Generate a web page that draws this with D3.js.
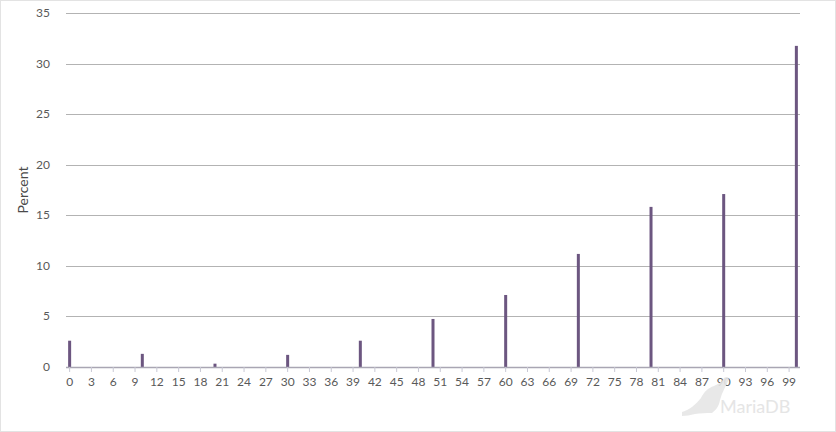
<!DOCTYPE html>
<html><head><meta charset="utf-8">
<script src="https://cdn.jsdelivr.net/npm/d3@7"></script>
<style>
html,body{margin:0;padding:0;background:#fff;}
svg{display:block;font-family:Lato,"Open Sans",sans-serif;}
</style></head>
<body>
<svg id="c" width="836" height="432"></svg>
<script>
const categories = d3.range(0, 101).map(String);
const barCategories = ["0","10","20","30","40","50","60","70","80","90","100"];
const barValues = [2.6, 1.3, 0.33, 1.2, 2.6, 4.75, 7.12, 11.18, 15.83, 17.1, 31.75];
const yTicks = [0, 5, 10, 15, 20, 25, 30, 35];
const xTickLabels = d3.range(0, 100, 3).map(String);
const yTitle = "Percent";

const svg = d3.select("#c");
const W = 836, H = 432;
svg.append("rect").attr("x",0.5).attr("y",0.5).attr("width",W-1).attr("height",H-1)
  .attr("fill","#fff").attr("stroke","#e3e3e3");

const x = d3.scaleBand().domain(categories).range([66, 800]).paddingInner(0.59).paddingOuter(0.295);
const y = d3.scaleLinear().domain([0, 35]).range([367, 13]);

// gridlines
svg.append("g").selectAll("line").data(yTicks.filter(d=>d>0)).join("line")
  .attr("x1",66).attr("x2",800).attr("y1",d=>Math.round(y(d))+0.5).attr("y2",d=>Math.round(y(d))+0.5)
  .attr("stroke","#b3b3b3").attr("stroke-width",1);

// y labels
svg.append("g").selectAll("text").data(yTicks).join("text")
  .attr("x",50).attr("y",d=>y(d)+4).attr("text-anchor","end")
  .attr("font-size",12).attr("fill","#595959").text(d=>d);

// bars
const data = barCategories.map((c,i)=>({c, v: barValues[i]}));
svg.append("g").selectAll("rect").data(data).join("rect")
  .attr("x",d=>x(d.c)+x.bandwidth()/2-1.5).attr("width",3)
  .attr("y",d=>y(d.v)).attr("height",d=>y(0)-y(d.v))
  .attr("fill","#6c5680");

// x axis
const xAxis = d3.axisBottom(x).tickValues(xTickLabels).tickSize(5).tickSizeOuter(0);
const gx = svg.append("g").attr("transform","translate(0,367)").call(xAxis);
gx.select(".domain").attr("stroke","#a9a6b3").attr("stroke-width",1.5).attr("d","M66,0.5H800");
gx.selectAll(".tick line").attr("stroke","#c8c8d4");
gx.selectAll(".tick text").attr("font-size",12).attr("fill","#595959").attr("font-family","Lato,sans-serif").attr("dy","0.9em");

// y title
svg.append("text").attr("transform","translate(28,190) rotate(-90)")
  .attr("text-anchor","middle").attr("font-size",14).attr("fill","#4a4a4a").text(yTitle);

// watermark
const wm = svg.append("g").attr("opacity",0.9);
wm.append("path")
  .attr("d","M682,412 C690,410 696,404 701,398 C704,392 708,388 714,386 C718,384 722,382 724,378 C727,376 730,377 728,381 C726,386 722,392 720,400 C719,406 716,410 712,413 C706,413 700,413 695,414 C690,415 686,416 682,416 Z")
  .attr("fill","#e6e6e6");
wm.append("text").attr("x",720).attr("y",413).attr("font-size",18).attr("fill","#e3e3e3")
  .attr("font-family","Lato,sans-serif").text("MariaDB");
</script>
</body></html>
